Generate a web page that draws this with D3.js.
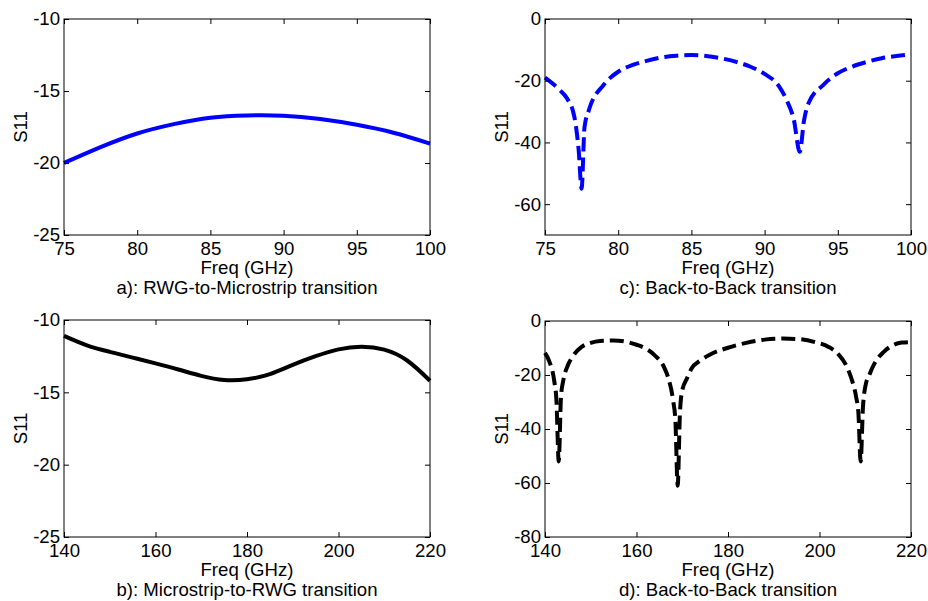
<!DOCTYPE html>
<html>
<head>
<meta charset="utf-8">
<script src="https://cdn.jsdelivr.net/npm/d3@7"></script>
<style>
  body { margin: 0; background: #fff; }
  svg { display: block; font-family: "Liberation Sans", Arial, sans-serif; }
</style>
</head>
<body>
<svg id="chart" width="928" height="601"></svg>
<script>
// a) RWG-to-Microstrip, 75-100 GHz
const freqA = [75, 77.5, 80, 82.5, 85, 87.5, 90, 92.5, 95, 97.5, 100];
const s11A = [-20.0, -18.9, -17.95, -17.3, -16.85, -16.7, -16.72, -16.95, -17.35, -17.9, -18.65];

// b) Microstrip-to-RWG, 140-220 GHz
const freqB = [140, 145, 150, 155, 160, 165, 170, 175, 180, 185, 190, 195, 200, 205, 210, 215, 220];
const s11B = [-11.1, -11.75, -12.2, -12.6, -13.0, -13.42, -13.86, -14.15, -14.1, -13.74, -13.1, -12.5, -12.03, -11.85, -12.05, -12.8, -14.2];

// c) Back-to-Back, 75-100 GHz
const freqC = [75, 76, 76.5, 77, 77.3, 77.5, 77.7, 78, 79, 80, 81, 82, 83, 84, 85, 86, 87, 88, 89, 90,
  91, 91.5, 92, 92.4, 92.7, 93, 94, 95, 96, 97, 98, 99, 100];
const s11C = [-19, -23, -25.7, -31.6, -42.5, -55, -35, -29.5, -21.4, -17.1, -14.9, -13.5, -12.4, -11.9, -11.7, -12.0, -12.7, -13.8, -15.4, -17.8,
  -21.9, -26.2, -32.7, -43, -32.7, -27.3, -21.4, -17.6, -15.4, -13.9, -12.7, -12.0, -11.5];

// d) Back-to-Back, 140-220 GHz
const freqD = [140, 141, 142, 142.5, 143, 143.5, 144, 145, 146, 148, 150, 152, 155, 158, 160, 162, 164, 166, 167, 168,
  168.5, 169, 169.5, 170, 171, 172, 174, 176, 180, 184, 188, 192, 196, 199, 202, 204, 206, 207, 208, 208.5,
  209, 209.5, 210, 211, 212, 214, 216, 218, 220];
const s11D = [-11.8, -15.2, -22, -29.4, -52, -28, -22, -16.4, -13.3, -9.6, -8.1, -7.4, -7.2, -7.8, -8.8, -10.2, -12.7, -17, -21.4, -29.4,
  -36.8, -61, -34, -25.7, -21.4, -17.7, -14.6, -12.5, -9.9, -8.1, -6.9, -6.5, -6.8, -7.8, -9.6, -12.1, -17, -21.4, -28.1, -34,
  -52, -31.9, -24.4, -19.5, -15.8, -11.5, -9, -8, -7.8];

const ticks7595 = [75, 80, 85, 90, 95, 100];
const ticks140 = [140, 160, 180, 200, 220];

const panels = [
  { x: freqA, y: s11A, xDom: [75, 100], yDom: [-25, -10], xTicks: ticks7595, yTicks: [-25, -20, -15, -10],
    color: '#0000ff', dash: null, smooth: true, caption: 'a): RWG-to-Microstrip transition',
    box: { left: 64, right: 430, top: 19, bottom: 235 } },
  { x: freqC, y: s11C, xDom: [75, 100], yDom: [-70, 0], xTicks: ticks7595, yTicks: [-60, -40, -20, 0],
    color: '#0000ff', dash: '14,6', smooth: false, caption: 'c): Back-to-Back transition',
    box: { left: 545, right: 911, top: 19, bottom: 235 } },
  { x: freqB, y: s11B, xDom: [140, 220], yDom: [-25, -10], xTicks: ticks140, yTicks: [-25, -20, -15, -10],
    color: '#000000', dash: null, smooth: true, caption: 'b): Microstrip-to-RWG transition',
    box: { left: 64, right: 430, top: 320, bottom: 537 } },
  { x: freqD, y: s11D, xDom: [140, 220], yDom: [-80, 0], xTicks: ticks140, yTicks: [-80, -60, -40, -20, 0],
    color: '#000000', dash: '14,6', smooth: false, caption: 'd): Back-to-Back transition',
    box: { left: 545, right: 911, top: 321, bottom: 537 } }
];

const svg = d3.select('#chart');
const fontSize = 18.6;
const tickLen = 5;
const fmt = (d) => String(d); // plain hyphen minus, as in the original

panels.forEach((p) => {
  const b = p.box;
  const w = b.right - b.left;
  const h = b.bottom - b.top;
  const xs = d3.scaleLinear().domain(p.xDom).range([0, w]);
  const ys = d3.scaleLinear().domain(p.yDom).range([h, 0]);

  const g = svg.append('g').attr('transform', `translate(${b.left},${b.top})`);

  const clipId = `clip-${b.left}-${b.top}`;
  g.append('clipPath').attr('id', clipId)
    .append('rect').attr('x', -2).attr('y', -2).attr('width', w + 4).attr('height', h + 4);

  // curve
  const line = d3.line()
    .x((d, i) => xs(p.x[i]))
    .y((d) => ys(d))
    .curve(p.smooth ? d3.curveNatural : d3.curveMonotoneX);

  g.append('path')
    .datum(p.y)
    .attr('clip-path', `url(#${clipId})`)
    .attr('fill', 'none')
    .attr('stroke', p.color)
    .attr('stroke-width', 4)
    .attr('stroke-dasharray', p.dash)
    .attr('d', line);

  // axes, MATLAB-style box with inward ticks
  const xBottom = d3.axisBottom(xs).tickValues(p.xTicks).tickSize(-tickLen).tickPadding(7).tickFormat(fmt);
  const xTop = d3.axisTop(xs).tickValues(p.xTicks).tickSize(-tickLen).tickFormat('');
  const yLeft = d3.axisLeft(ys).tickValues(p.yTicks).tickSize(-tickLen).tickPadding(4).tickFormat(fmt);
  const yRight = d3.axisRight(ys).tickValues(p.yTicks).tickSize(-tickLen).tickFormat('');

  const styleAxis = (sel) => {
    sel.selectAll('path').attr('stroke', '#000').attr('stroke-width', 1);
    sel.selectAll('line').attr('stroke', '#000').attr('stroke-width', 1);
    sel.selectAll('text').attr('fill', '#000').style('font-size', `${fontSize}px`)
      .style('font-family', '"Liberation Sans", Arial, sans-serif');
  };

  g.append('g').attr('transform', `translate(0,${h})`).call(xBottom).call(styleAxis);
  g.append('g').call(xTop).call(styleAxis);
  g.append('g').call(yLeft).call(styleAxis);
  g.append('g').attr('transform', `translate(${w},0)`).call(yRight).call(styleAxis);

  g.selectAll('.domain').attr('d', null);
  g.append('rect')
    .attr('width', w).attr('height', h)
    .attr('fill', 'none').attr('stroke', '#000').attr('stroke-width', 1);

  // labels
  g.append('text')
    .attr('x', w / 2).attr('y', h + 39)
    .attr('text-anchor', 'middle')
    .attr('font-size', fontSize)
    .text('Freq (GHz)');

  g.append('text')
    .attr('x', w / 2).attr('y', h + 59)
    .attr('text-anchor', 'middle')
    .attr('font-size', fontSize)
    .text(p.caption);

  g.append('text')
    .attr('transform', `translate(-44,${h / 2}) rotate(-90)`)
    .attr('text-anchor', 'middle')
    .attr('dy', '0.35em')
    .attr('font-size', fontSize)
    .text('S11');
});
</script>
</body>
</html>
